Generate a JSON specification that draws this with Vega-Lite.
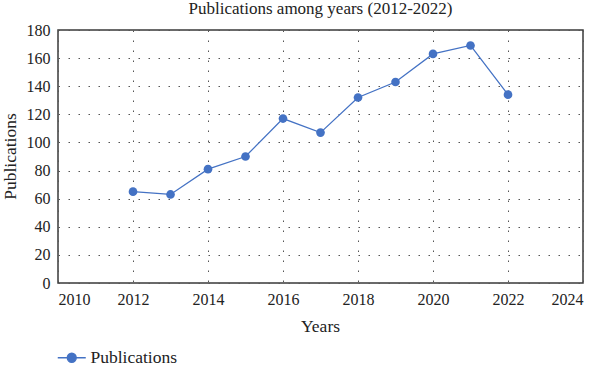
{
  "$schema": "https://vega.github.io/schema/vega-lite/v6.json",
  "autosize": {"type": "none"},
  "padding": {"left": 58, "top": 30, "right": 17, "bottom": 87},
  "width": 525,
  "height": 253,
  "background": "white",
  "title": {
    "text": "Publications among years (2012-2022)",
    "font": "Liberation Serif",
    "fontSize": 17,
    "fontWeight": "normal",
    "color": "#222",
    "anchor": "middle",
    "offset": 4
  },
  "config": {
    "view": {"stroke": "#3a3a3a", "strokeWidth": 1.5},
    "axis": {
      "labelFont": "Liberation Serif",
      "labelFontSize": 16,
      "labelColor": "#222",
      "titleFont": "Liberation Serif",
      "titleFontSize": 17.5,
      "titleFontWeight": "normal",
      "titleColor": "#222",
      "ticks": false,
      "domain": false,
      "gridColor": "#555",
      "gridDash": [1.5, 8.5],
      "gridWidth": 1,
      "labelPadding": 8
    },
    "legend": {
      "labelFont": "Liberation Serif",
      "labelFontSize": 17.5,
      "labelColor": "#222"
    }
  },
  "data": {
    "values": [
      {"year": 2012, "pubs": 65, "series": "Publications"},
      {"year": 2013, "pubs": 63, "series": "Publications"},
      {"year": 2014, "pubs": 81, "series": "Publications"},
      {"year": 2015, "pubs": 90, "series": "Publications"},
      {"year": 2016, "pubs": 117, "series": "Publications"},
      {"year": 2017, "pubs": 107, "series": "Publications"},
      {"year": 2018, "pubs": 132, "series": "Publications"},
      {"year": 2019, "pubs": 143, "series": "Publications"},
      {"year": 2020, "pubs": 163, "series": "Publications"},
      {"year": 2021, "pubs": 169, "series": "Publications"},
      {"year": 2022, "pubs": 134, "series": "Publications"}
    ]
  },
  "encoding": {
    "x": {
      "field": "year",
      "type": "quantitative",
      "scale": {"domain": [2010, 2024], "nice": false},
      "axis": {
        "values": [2010, 2012, 2014, 2016, 2018, 2020, 2022, 2024],
        "format": "d",
        "labelFont": "Liberation Serif",
        "title": "Years",
        "titleBaseline": "alphabetic",
        "titleX": 262,
        "titleY": 48.5
      }
    },
    "y": {
      "field": "pubs",
      "type": "quantitative",
      "scale": {"domain": [0, 180], "nice": false},
      "axis": {
        "values": [0, 20, 40, 60, 80, 100, 120, 140, 160, 180],
        "labelFont": "Liberation Serif",
        "title": "Publications",
        "titleBaseline": "alphabetic",
        "titleAngle": -90,
        "titleX": -43,
        "titleY": 126
      }
    },
    "color": {
      "field": "series",
      "type": "nominal",
      "scale": {"range": ["#4472C4"]},
      "legend": {
        "title": null,
        "orient": "none",
        "legendX": 5,
        "legendY": 319,
        "symbolType": "M-2.8,0H2.8M-0.9,0A0.9,0.9 0 1,1 0.9,0A0.9,0.9 0 1,1 -0.9,0Z",
        "symbolSize": 100,
        "symbolStrokeWidth": 1.3,
        "symbolFillColor": "#4472C4",
        "symbolStrokeColor": "#4472C4",
        "labelOffset": 10
      }
    }
  },
  "layer": [
    {"mark": {"type": "line", "strokeWidth": 1.3}},
    {"mark": {"type": "point", "filled": true, "size": 75, "opacity": 1}}
  ]
}
